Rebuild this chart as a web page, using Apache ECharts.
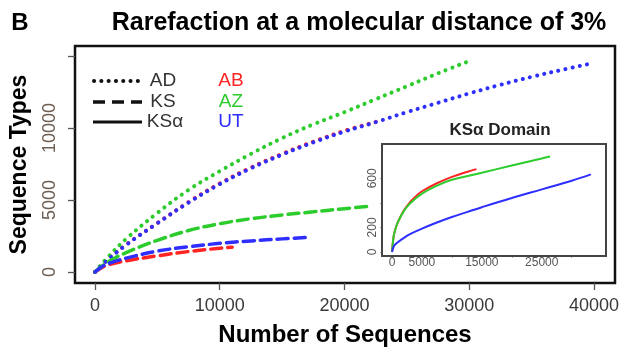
<!DOCTYPE html>
<html><head><meta charset="utf-8">
<script src="https://cdn.jsdelivr.net/npm/echarts@6/dist/echarts.min.js"></script>
<style>html,body{margin:0;padding:0;background:#fff}#c{width:623px;height:352px}</style>
</head><body><div id="c"></div>
<script>
// ---- data ----
const mainXTicks = [0, 10000, 20000, 30000, 40000];
const mainYTicks = [0, 5000, 10000, 15000];
const mainYLabels = [0, 5000, 10000];
const insetXTicks = [0, 5000, 10000, 15000, 20000, 25000, 30000];
const insetXLabels = [0, 5000, 15000, 25000];
const insetYTicks = [0, 200, 400, 600];
const insetYLabels = [0, 200, 600];

// AD (dotted)
const AD_AB_x = [0, 1000, 2500, 5000, 7500, 10000, 12500, 15000, 17500, 20000, 22600];
const AD_AB_y = [0, 850, 1900, 3400, 4850, 6150, 7250, 8200, 9050, 9800, 10450];
const AD_AZ_x = [0, 1000, 2500, 5000, 7500, 10000, 12500, 15000, 17500, 20000, 22500, 25000, 27500, 30000];
const AD_AZ_y = [0, 1000, 2300, 4100, 5700, 7000, 8200, 9300, 10250, 11100, 12000, 12900, 13800, 14650];
const AD_UT_x = [0, 1000, 2500, 5000, 7500, 10000, 12500, 15000, 17500, 20000, 22500, 25000, 27500, 30000, 32500, 35000, 37500, 39500];
const AD_UT_y = [0, 820, 1880, 3380, 4820, 6100, 7200, 8150, 9000, 9750, 10400, 11100, 11750, 12400, 13000, 13550, 14050, 14430];
// KS (dashed)
const KS_AB_x = [0, 500, 1000, 2500, 5000, 7500, 10000, 11000];
const KS_AB_y = [0, 280, 480, 780, 1120, 1420, 1650, 1720];
const KS_AZ_x = [0, 500, 1000, 2500, 5000, 7500, 10000, 12500, 15000, 17500, 20000, 22000];
const KS_AZ_y = [0, 380, 680, 1350, 2200, 2880, 3350, 3700, 3960, 4180, 4400, 4560];
const KS_UT_x = [0, 500, 1000, 2500, 5000, 7500, 10000, 12500, 15000, 17100];
const KS_UT_y = [0, 330, 560, 960, 1450, 1750, 1990, 2160, 2300, 2400];
// KSα (inset, solid)
const KSa_AB_x = [0, 250, 500, 1000, 2000, 3000, 4000, 5000, 7500, 10000, 12500, 14100];
const KSa_AB_y = [0, 120, 175, 245, 340, 405, 455, 495, 560, 612, 652, 675];
const KSa_AZ_x = [0, 250, 500, 1000, 2000, 3000, 5000, 7500, 10000, 15000, 20000, 25000, 26400];
const KSa_AZ_y = [0, 120, 175, 245, 335, 395, 475, 540, 588, 645, 705, 762, 778];
const KSa_UT_x = [0, 250, 500, 1000, 2000, 3000, 5000, 7500, 10000, 12500, 15000, 20000, 25000, 30000, 33200];
const KSa_UT_y = [0, 40, 60, 80, 115, 145, 190, 240, 285, 325, 365, 440, 510, 580, 632];

const zip = (xs, ys) => xs.map((x, i) => [x, ys[i]]);
const RED = '#ff2424', GREEN = '#2ccc2c', BLUE = '#2e2eff';
const FONT = 'Liberation Sans, Arial, sans-serif';
const plain = v => String(v);

function mainLine(name, xs, ys, color, dash, width) {
  return { name, type: 'line', xAxisIndex: 0, yAxisIndex: 0, data: zip(xs, ys),
    showSymbol: false, smooth: 0.4, animation: false, silent: true,
    lineStyle: { color, width, type: dash, cap: 'round' } };
}
function insetLine(name, xs, ys, color) {
  return { name, type: 'line', xAxisIndex: 1, yAxisIndex: 1, data: zip(xs, ys),
    showSymbol: false, smooth: 0.4, animation: false, silent: true, z: 5,
    lineStyle: { color, width: 2 } };
}
const DOT = [0.1, 7.2], DASH = [11, 6];

const chart = echarts.init(document.getElementById('c'), null, { renderer: 'canvas' });
chart.setOption({
  backgroundColor: '#fff',
  animation: false,
  grid: [
    { left: 74, top: 46, right: 8, bottom: 69, show: true, borderColor: '#111', borderWidth: 2.5, backgroundColor: 'transparent', containLabel: false },
    { left: 382, top: 144, width: 224, height: 112, show: true, borderColor: '#444', borderWidth: 2, backgroundColor: '#fff', z: 3, containLabel: false }
  ],
  xAxis: [
    { type: 'value', gridIndex: 0, min: -1600, max: 41680,
      name: 'Number of Sequences', nameLocation: 'middle', nameGap: 40,
      nameTextStyle: { fontFamily: FONT, fontWeight: 'bold', fontSize: 24, color: '#000' },
      axisLine: { show: false, onZero: false }, splitLine: { show: false },
      axisTick: { show: true, length: 7, customValues: mainXTicks, lineStyle: { color: '#555', width: 1.3 } },
      axisLabel: { customValues: mainXTicks, formatter: plain, margin: 14, fontFamily: FONT, fontSize: 18, color: '#3a3a3a' } },
    { type: 'value', gridIndex: 1, min: -1670, max: 35730,
      axisLine: { show: false, onZero: false }, splitLine: { show: false },
      axisTick: { show: true, length: 2, customValues: insetXTicks, lineStyle: { color: '#aaa' } },
      axisLabel: { customValues: insetXLabels, formatter: plain, margin: 1, fontFamily: FONT, fontSize: 12, color: '#555' } }
  ],
  yAxis: [
    { type: 'value', gridIndex: 0, min: -764, max: 15694,
      name: 'Sequence Types', nameLocation: 'middle', nameGap: 44,
      nameTextStyle: { fontFamily: FONT, fontWeight: 'bold', fontSize: 23, color: '#000' },
      axisLine: { show: false, onZero: false }, splitLine: { show: false },
      axisTick: { show: true, length: 7, customValues: mainYTicks, lineStyle: { color: '#555', width: 1.3 } },
      axisLabel: { customValues: mainYLabels, formatter: plain, rotate: 90, margin: 16, fontFamily: FONT, fontSize: 18, color: '#6e5e52' } },
    { type: 'value', gridIndex: 1, min: -33, max: 880,
      axisLine: { show: false, onZero: false }, splitLine: { show: false },
      axisTick: { show: true, length: 2, customValues: insetYTicks, lineStyle: { color: '#aaa' } },
      axisLabel: { customValues: insetYLabels, formatter: plain, rotate: 90, margin: 3, fontFamily: FONT, fontSize: 12, color: '#555' } }
  ],
  series: [
    mainLine('AD AB', AD_AB_x, AD_AB_y, RED, DOT, 4),
    mainLine('AD AZ', AD_AZ_x, AD_AZ_y, GREEN, DOT, 4),
    mainLine('AD UT', AD_UT_x, AD_UT_y, BLUE, DOT, 4),
    mainLine('KS AB', KS_AB_x, KS_AB_y, RED, DASH, 3.5),
    mainLine('KS AZ', KS_AZ_x, KS_AZ_y, GREEN, DASH, 3.5),
    mainLine('KS UT', KS_UT_x, KS_UT_y, BLUE, DASH, 3.5),
    insetLine('KSα AB', KSa_AB_x, KSa_AB_y, RED),
    insetLine('KSα AZ', KSa_AZ_x, KSa_AZ_y, GREEN),
    insetLine('KSα UT', KSa_UT_x, KSa_UT_y, BLUE)
  ],
  graphic: [
    { type: 'text', x: 20, y: 23, style: { text: 'B', font: 'bold 24px ' + FONT, fill: '#000', textAlign: 'center', textVerticalAlign: 'middle' } },
    { type: 'text', x: 359, y: 23, style: { text: 'Rarefaction at a molecular distance of 3%', font: 'bold 25px ' + FONT, fill: '#000', textAlign: 'center', textVerticalAlign: 'middle' } },
    { type: 'text', x: 500, y: 130, z: 10, style: { text: 'KSα Domain', font: 'bold 17px ' + FONT, fill: '#222', textAlign: 'center', textVerticalAlign: 'middle' } },
    // legend: line types
    { type: 'line', shape: { x1: 94, y1: 81, x2: 140, y2: 81 }, style: { stroke: '#111', lineWidth: 4, lineDash: DOT, lineCap: 'round' } },
    { type: 'line', shape: { x1: 93, y1: 102, x2: 142, y2: 102 }, style: { stroke: '#111', lineWidth: 3.5, lineDash: [12, 7] } },
    { type: 'line', shape: { x1: 93, y1: 122, x2: 142, y2: 122 }, style: { stroke: '#111', lineWidth: 3 } },
    { type: 'text', x: 163, y: 81, style: { text: 'AD', font: '19px ' + FONT, fill: '#333', textAlign: 'center', textVerticalAlign: 'middle' } },
    { type: 'text', x: 163, y: 102, style: { text: 'KS', font: '19px ' + FONT, fill: '#333', textAlign: 'center', textVerticalAlign: 'middle' } },
    { type: 'text', x: 165, y: 122, style: { text: 'KSα', font: '19px ' + FONT, fill: '#333', textAlign: 'center', textVerticalAlign: 'middle' } },
    // legend: colours
    { type: 'text', x: 231, y: 81, style: { text: 'AB', font: '19px ' + FONT, fill: RED, textAlign: 'center', textVerticalAlign: 'middle' } },
    { type: 'text', x: 231, y: 102, style: { text: 'AZ', font: '19px ' + FONT, fill: GREEN, textAlign: 'center', textVerticalAlign: 'middle' } },
    { type: 'text', x: 231, y: 122, style: { text: 'UT', font: '19px ' + FONT, fill: BLUE, textAlign: 'center', textVerticalAlign: 'middle' } }
  ]
});
</script></body></html>
